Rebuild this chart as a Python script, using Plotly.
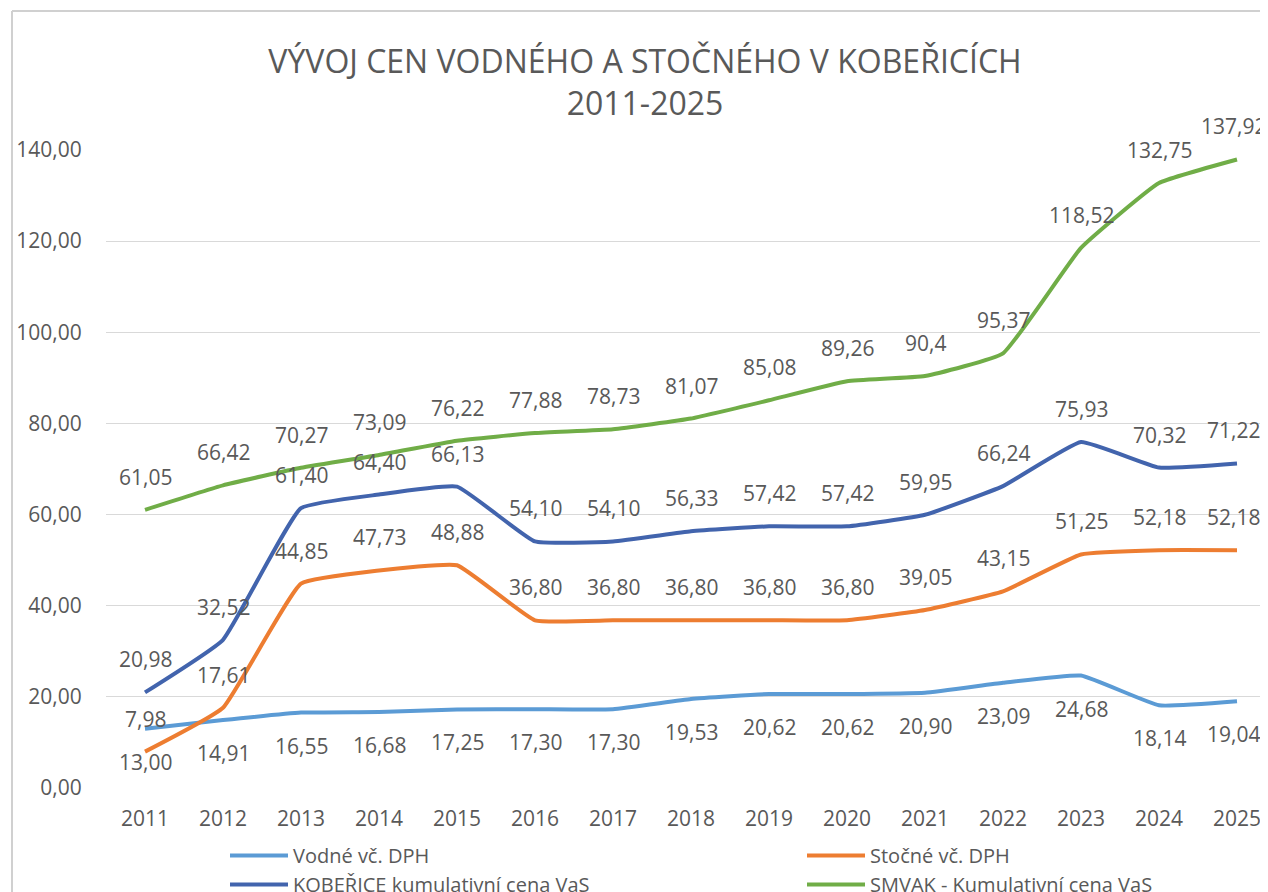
import plotly.graph_objects as go

years = list(range(2011, 2026))
vodne = [13.00, 14.91, 16.55, 16.68, 17.25, 17.30, 17.30, 19.53, 20.62, 20.62, 20.90, 23.09, 24.68, 18.14, 19.04]
stocne = [7.98, 17.61, 44.85, 47.73, 48.88, 36.80, 36.80, 36.80, 36.80, 36.80, 39.05, 43.15, 51.25, 52.18, 52.18]
koberice = [20.98, 32.52, 61.40, 64.40, 66.13, 54.10, 54.10, 56.33, 57.42, 57.42, 59.95, 66.24, 75.93, 70.32, 71.22]
smvak = [61.05, 66.42, 70.27, 73.09, 76.22, 77.88, 78.73, 81.07, 85.08, 89.26, 90.4, 95.37, 118.52, 132.75, 137.92]

series_names = ["Vodné vč. DPH", "Stočné vč. DPH", "KOBEŘICE kumulativní cena VaS", "SMVAK - Kumulativní cena VaS"]
title_text = "VÝVOJ CEN VODNÉHO A STOČNÉHO V KOBEŘICÍCH<br>2011-2025"

colors = ["#5B9BD5", "#ED7D31", "#4264AD", "#70AD47"]
label_side = [-1, 1, 1, 1]          # below / above
general_fmt = [False, False, False, True]

FONT = "Open Sans"
GRAY = "#595959"

OFF = 8  # browser default body margin
W, H = 1268 - OFF, 892 - OFF
PL, PR, PT, PB = 106 - OFF, 1268 - OFF, 150 - OFF, 788 - OFF

def fmt(v, general):
    s = repr(v) if general else f"{v:.2f}"
    return s.replace(".", ",")

fig = go.Figure()
annotations = []
for name, vals, col, side, gen in zip(series_names, [vodne, stocne, koberice, smvak], colors, label_side, general_fmt):
    fig.add_trace(go.Scatter(
        x=years, y=vals, name=name, mode="lines",
        line=dict(color=col, width=4, shape="spline", smoothing=0.35),
        cliponaxis=False,
    ))
    for i, (x, v) in enumerate(zip(years, vals)):
        annotations.append(dict(
            x=x, y=v, xref="x", yref="y", text=fmt(v, gen), showarrow=False,
            yshift=33 * side, xshift=-4 if i == len(years) - 1 else 0,
            font=dict(family=FONT, size=21, color=GRAY),
        ))

def px_x(p):  # page pixel -> paper
    return (p - OFF - PL) / (PR - PL)

def px_y(p):
    return (PB - (p - OFF)) / (PB - PT)

shapes = [
    dict(type="line", xref="paper", yref="paper", x0=px_x(12), x1=px_x(1268), y0=px_y(11), y1=px_y(11),
         line=dict(color="#D0D0D0", width=2)),
    dict(type="line", xref="paper", yref="paper", x0=px_x(12), x1=px_x(12), y0=px_y(11), y1=px_y(892),
         line=dict(color="#D0D0D0", width=2)),
]

fig.update_layout(
    width=W, height=H,
    margin=dict(l=PL, r=W - PR, t=PT, b=H - PB, pad=0, autoexpand=False),
    paper_bgcolor="white", plot_bgcolor="white",
    separators=", ",
    font=dict(family=FONT, color=GRAY, size=21),
    title=dict(text=title_text, x=(645 - OFF) / W, xanchor="center",
               y=1 - (73 - OFF) / H, yanchor="top",
               font=dict(family=FONT, size=32, color=GRAY)),
    xaxis=dict(range=[2010.5, 2010.5 + (PR - PL) / 78.0], tickmode="array", tickvals=years,
               ticktext=[str(y) for y in years], showgrid=False, zeroline=False, showline=False,
               ticks="outside", ticklen=12, tickcolor="rgba(0,0,0,0)",
               tickfont=dict(family=FONT, size=21, color=GRAY), fixedrange=True),
    yaxis=dict(range=[0, 140], tickvals=[0, 20, 40, 60, 80, 100, 120, 140], tickformat=".2f",
               showgrid=True, gridcolor="#D9D9D9", gridwidth=1, zeroline=False, showline=False,
               ticks="outside", ticklen=19, tickcolor="rgba(0,0,0,0)",
               tickfont=dict(family=FONT, size=21, color=GRAY)),
    legend=dict(orientation="h", x=px_x(225), xanchor="left", y=px_y(836), yanchor="top",
                entrywidth=504, entrywidthmode="pixels", itemwidth=58,
                font=dict(family=FONT, size=20, color=GRAY), bgcolor="rgba(0,0,0,0)"),
    annotations=annotations,
    shapes=shapes,
    showlegend=True,
)

fig.write_html("out.html")
